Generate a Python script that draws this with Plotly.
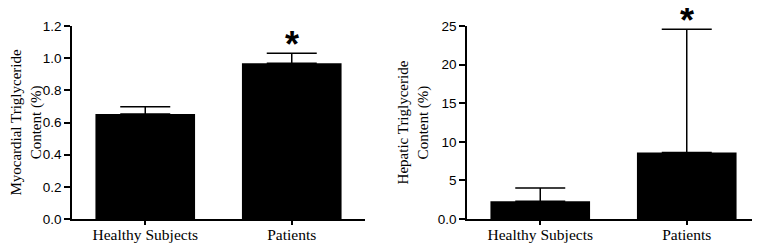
import plotly.graph_objects as go

categories = ["Healthy Subjects", "Patients"]
myo_values = [0.653, 0.968]
myo_err = [0.045, 0.062]
hep_values = [2.29, 8.63]
hep_err = [1.73, 15.94]
myo_ticks = [0.0, 0.2, 0.4, 0.6, 0.8, 1.0, 1.2]
myo_ticktext = ["0.0", "0.2", "0.4", "0.6", "0.8", "1.0", "1.2"]
hep_ticks = [0, 5, 10, 15, 20, 25]
hep_ticktext = ["0.0", "5", "10", "15", "20", "25"]

# page has an 8px body margin, so the figure is 752x236 drawn at (8, 8)
W, H = 752, 236
fig = go.Figure()

def err(e):
    return dict(type="data", symmetric=False, array=[e], arrayminus=[0],
                color="black", thickness=1.5, width=25, visible=True)

for i, c in enumerate(categories):
    fig.add_trace(go.Bar(x=[c], y=[myo_values[i]], error_y=err(myo_err[i]),
                         marker=dict(color="black", line=dict(width=0)),
                         width=0.68, xaxis="x", yaxis="y", showlegend=False))
    fig.add_trace(go.Bar(x=[c], y=[hep_values[i]], error_y=err(hep_err[i]),
                         marker=dict(color="black", line=dict(width=0)),
                         width=0.68, xaxis="x2", yaxis="y2", showlegend=False))

serif = "Liberation Serif, Times New Roman, serif"
sans = "Liberation Sans, Arial, sans-serif"

top_px, bot_px = 18, 211
ydom = [(H - bot_px) / H, (H - top_px) / H]
xaxis_common = dict(type="category", range=[-0.5, 1.5], showline=True, linecolor="black",
                    linewidth=1.5, ticks="outside", ticklen=4, tickwidth=1.5, tickcolor="black",
                    tickfont=dict(family=serif, size=15.5, color="black"), showgrid=False,
                    zeroline=False, fixedrange=True, automargin=False, ticklabelstandoff=-3)
yaxis_common = dict(showline=True, linecolor="black", linewidth=1.5, ticks="outside",
                    ticklen=6, tickwidth=1.5, tickcolor="black",
                    tickfont=dict(family=sans, size=13.5, color="black"), showgrid=False,
                    zeroline=False, domain=ydom, tickmode="array", automargin=False)

fig.update_layout(
    width=W, height=H, margin=dict(l=0, r=0, t=0, b=0),
    plot_bgcolor="white", paper_bgcolor="white", barmode="overlay",
    xaxis=dict(domain=[64 / W, 357 / W], anchor="y", **xaxis_common),
    xaxis2=dict(domain=[459 / W, 1.0], anchor="y2", **xaxis_common),
    yaxis=dict(anchor="x", range=[0, 1.2], tickvals=myo_ticks, ticktext=myo_ticktext,
               title=dict(text="Myocardial Triglyceride<br>Content (%)", standoff=8,
                          font=dict(family=serif, size=15, color="black")),
               **yaxis_common),
    yaxis2=dict(anchor="x2", range=[0, 25], tickvals=hep_ticks, ticktext=hep_ticktext,
                title=dict(text="Hepatic Triglyceride<br>Content (%)", standoff=6,
                           font=dict(family=serif, size=15, color="black")),
                **yaxis_common),
)

# significance markers (vertical position in axis-domain units)
fig.add_annotation(x="Patients", y=(bot_px - 36) / 193, xref="x", yref="y domain", text="<b>*</b>",
                   showarrow=False, yanchor="middle",
                   font=dict(family=sans, size=36, color="black"))
fig.add_annotation(x="Patients", y=(bot_px - 13) / 193, xref="x2", yref="y2 domain", text="<b>*</b>",
                   showarrow=False, yanchor="middle",
                   font=dict(family=sans, size=36, color="black"))

fig.write_html("out.html")
